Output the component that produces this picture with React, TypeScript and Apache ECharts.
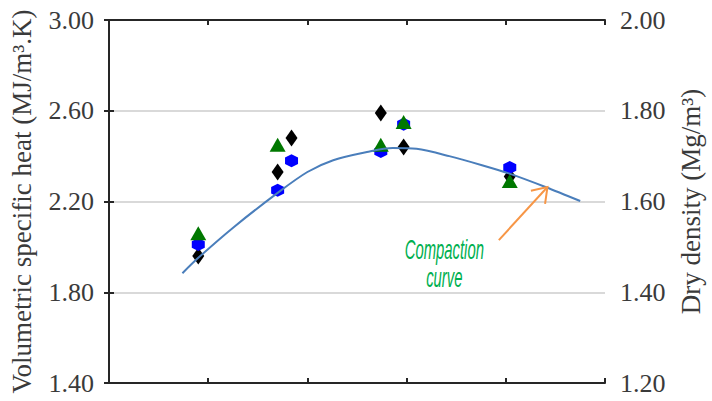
import React, { useEffect, useRef } from "react";
import * as echarts from "echarts";

// Water content position (x, no labels shown)
const xTicks = [0, 1, 2, 3, 4, 5];

// Volumetric specific heat (left axis)
const triangleX = [0.9, 1.7, 2.74, 2.97, 4.04];
const triangleY = [2.06, 2.45, 2.45, 2.55, 2.29];
const hexX = [0.9, 1.7, 1.84, 2.74, 2.97, 4.04];
const hexY = [2.01, 2.25, 2.38, 2.42, 2.54, 2.35];
const diamondX = [0.9, 1.7, 1.84, 2.74, 2.97, 4.04];
const diamondY = [1.96, 2.33, 2.48, 2.59, 2.44, 2.31];

// Compaction curve, dry density (right axis)
const curveX = [0.74, 0.9, 1.26, 1.7, 2.0, 2.26, 2.6, 2.86, 3.1, 3.43, 3.76, 4.03, 4.4, 4.75];
const curveY = [1.442, 1.476, 1.544, 1.619, 1.665, 1.691, 1.709, 1.718, 1.716, 1.7, 1.68, 1.662, 1.632, 1.601];

// Annotation anchors (x, dry density)
const arrowTail = [3.93, 1.515];
const arrowTip = [4.42, 1.632];
const labelPos = [3.38, 1.462];

const leftTicks = [1.4, 3.0, 0.4];
const rightTicks = [1.2, 2.0, 0.2];

const FONT = "'Liberation Serif', 'Times New Roman', serif";
const AXIS_COLOR = "#262626";
const LABEL_COLOR = "#3a3a3a";

const zip = (a: number[], b: number[]) => a.map((v, i) => [v, b[i]]);

const hexPath = "path://M0,-10 L8.66,-5 L8.66,5 L0,10 L-8.66,5 L-8.66,-5 Z";

export default function App() {
  const ref = useRef<HTMLDivElement>(null);
  useEffect(() => {
    if (!ref.current) return;
    const chart = echarts.init(ref.current, undefined, { renderer: "svg" });
    const xAxisBase = {
      type: "value" as const,
      min: xTicks[0],
      max: xTicks[xTicks.length - 1],
      interval: 1,
      axisLine: { show: true, onZero: false, lineStyle: { color: AXIS_COLOR, width: 2 } },
      axisTick: { show: true, inside: true, length: 5, lineStyle: { color: AXIS_COLOR, width: 2 } },
      axisLabel: { show: false },
      splitLine: { show: false },
    };
    const yAxisBase = {
      type: "value" as const,
      nameLocation: "middle" as const,
      nameRotate: 90,
      nameGap: 74,
      nameTextStyle: { fontFamily: FONT, fontSize: 27, color: LABEL_COLOR },
      axisLine: { show: true, lineStyle: { color: AXIS_COLOR, width: 2 } },
      axisTick: { show: true, inside: true, length: 5, lineStyle: { color: AXIS_COLOR, width: 2 } },
      axisLabel: {
        fontFamily: FONT,
        fontSize: 26,
        color: LABEL_COLOR,
        margin: 15,
        formatter: (v: number) => v.toFixed(2),
      },
    };
    const option = {
      animation: false,
      backgroundColor: "#ffffff",
      grid: { left: 107, right: 104, top: 20, bottom: 18 },
      xAxis: [
        { ...xAxisBase, position: "bottom" },
        { ...xAxisBase, position: "top" },
      ],
      yAxis: [
        {
          ...yAxisBase,
          position: "left",
          name: "Volumetric specific heat (MJ/m³.K)",
          min: leftTicks[0],
          max: leftTicks[1],
          interval: leftTicks[2],
          splitLine: { show: true, lineStyle: { color: "#d9d9d9", width: 2 } },
        },
        {
          ...yAxisBase,
          position: "right",
          name: "Dry density (Mg/m³)",
          nameGap: 72,
          min: rightTicks[0],
          max: rightTicks[1],
          interval: rightTicks[2],
          splitLine: { show: false },
        },
      ],
      series: [
        {
          type: "scatter",
          xAxisIndex: 0,
          yAxisIndex: 0,
          symbol: "diamond",
          symbolSize: [12, 17],
          itemStyle: { color: "#000000", opacity: 1 },
          data: zip(diamondX, diamondY),
        },
        {
          type: "scatter",
          xAxisIndex: 0,
          yAxisIndex: 0,
          symbol: hexPath,
          symbolSize: [13, 13],
          itemStyle: { color: "#0000ff", opacity: 1 },
          data: zip(hexX, hexY),
        },
        {
          type: "scatter",
          xAxisIndex: 0,
          yAxisIndex: 0,
          symbol: "triangle",
          symbolSize: [16, 14],
          itemStyle: { color: "#007800", opacity: 1 },
          data: zip(triangleX, triangleY),
        },
        {
          type: "line",
          xAxisIndex: 0,
          yAxisIndex: 1,
          smooth: 0.3,
          showSymbol: false,
          symbol: "none",
          lineStyle: { color: "#4a7ebb", width: 2 },
          data: zip(curveX, curveY),
        },
      ],
    };
    chart.setOption(option as any);

    const toPx = (p: number[]) => chart.convertToPixel({ xAxisIndex: 0, yAxisIndex: 1 }, p) as number[];
    const tail = toPx(arrowTail);
    const tip = toPx(arrowTip);
    const lab = toPx(labelPos);
    const ang = Math.atan2(tip[1] - tail[1], tip[0] - tail[0]);
    const headLen = 17;
    const spread = 0.6;
    const h1 = [tip[0] - headLen * Math.cos(ang - spread), tip[1] - headLen * Math.sin(ang - spread)];
    const h2 = [tip[0] - headLen * Math.cos(ang + spread), tip[1] - headLen * Math.sin(ang + spread)];
    const arrowStyle = { stroke: "#f79646", lineWidth: 2, fill: "none" };
    chart.setOption({
      graphic: [
        {
          type: "line",
          shape: { x1: tail[0], y1: tail[1], x2: tip[0], y2: tip[1] },
          style: arrowStyle,
          z: 100,
        },
        {
          type: "polyline",
          shape: { points: [h1, tip, h2] },
          style: arrowStyle,
          z: 100,
        },
        {
          type: "text",
          x: lab[0],
          y: lab[1],
          scaleX: 0.55,
          z: 100,
          style: {
            text: "Compaction\ncurve",
            align: "center",
            verticalAlign: "middle",
            fontFamily: "'Liberation Sans', Arial, sans-serif",
            fontStyle: "italic",
            fontSize: 27,
            lineHeight: 28,
            fill: "#00b050",
          },
        },
      ],
    });
    return () => chart.dispose();
  }, []);
  return (
    <div
      ref={ref}
      style={{ position: "fixed", left: 0, top: 0, width: 712, height: 401 }}
    />
  );
}
